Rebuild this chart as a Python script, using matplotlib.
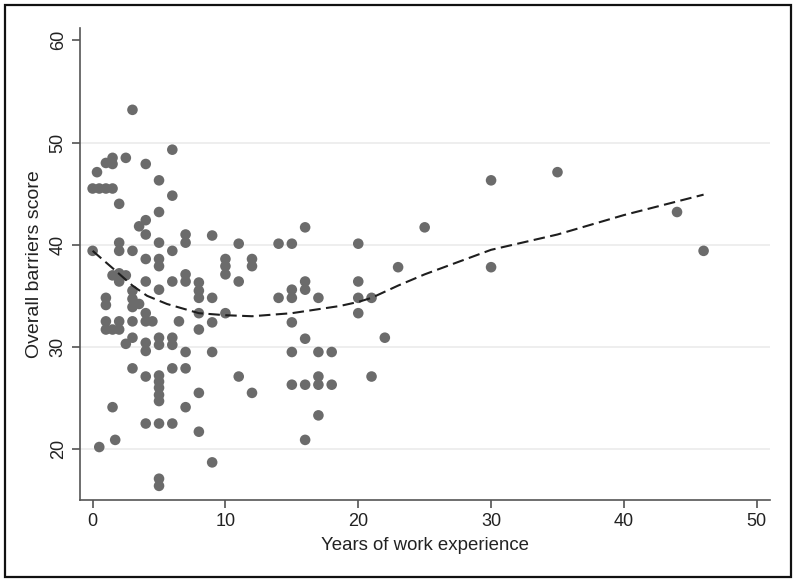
import matplotlib.pyplot as plt
from matplotlib.patches import Rectangle

# Pontos (anos de experiência, escore de barreiras)
anos = [0, 0,
        0.33,
        0.5, 0.5,
        1, 1, 1, 1, 1, 1,
        1.5, 1.5, 1.5, 1.5, 1.5, 1.5,
        1.7,
        2, 2, 2, 2, 2, 2, 2,
        2.5, 2.5, 2.5,
        3, 3, 3, 3, 3, 3, 3, 3,
        3.5, 3.5,
        4, 4, 4, 4, 4, 4, 4, 4, 4, 4, 4,
        4.5,
        5, 5, 5, 5, 5, 5, 5, 5, 5, 5, 5, 5, 5, 5, 5, 5,
        6, 6, 6, 6, 6, 6, 6, 6,
        6.5,
        7, 7, 7, 7, 7, 7, 7,
        8, 8, 8, 8, 8, 8, 8,
        9, 9, 9, 9, 9,
        10, 10, 10, 10,
        11, 11, 11,
        12, 12, 12,
        14, 14,
        15, 15, 15, 15, 15, 15,
        16, 16, 16, 16, 16, 16,
        17, 17, 17, 17, 17,
        18, 18,
        20, 20, 20, 20,
        21, 21,
        22, 23, 25,
        30, 30,
        35, 44, 46]
escore = [45.5, 39.4,
          47.1,
          45.5, 20.2,
          48.0, 45.5, 34.8, 34.1, 32.5, 31.7,
          48.5, 47.9, 45.5, 37.0, 31.7, 24.1,
          20.9,
          44.0, 40.2, 39.4, 37.2, 36.4, 32.5, 31.7,
          48.5, 37.0, 30.3,
          53.2, 39.4, 35.5, 34.7, 33.9, 32.5, 30.9, 27.9,
          41.8, 34.2,
          47.9, 42.4, 41.0, 38.6, 36.4, 33.3, 32.5, 30.4, 29.6, 27.1, 22.5,
          32.5,
          46.3, 43.2, 40.2, 38.6, 37.9, 35.6, 30.9, 30.2, 27.2, 26.6, 26.0, 25.3, 24.7, 22.5, 17.1, 16.4,
          49.3, 44.8, 39.4, 36.4, 30.9, 30.2, 27.9, 22.5,
          32.5,
          41.0, 40.2, 37.1, 36.4, 29.5, 27.9, 24.1,
          36.3, 35.5, 34.8, 33.3, 31.7, 25.5, 21.7,
          40.9, 34.8, 32.4, 29.5, 18.7,
          38.6, 37.9, 37.1, 33.3,
          40.1, 36.4, 27.1,
          38.6, 37.9, 25.5,
          40.1, 34.8,
          40.1, 35.6, 34.8, 32.4, 29.5, 26.3,
          41.7, 36.4, 35.6, 30.8, 26.3, 20.9,
          34.8, 29.5, 27.1, 26.3, 23.3,
          29.5, 26.3,
          40.1, 36.4, 34.8, 33.3,
          34.8, 27.1,
          30.9, 37.8, 41.7,
          46.3, 37.8,
          47.1, 43.2, 39.4]

# Curva suavizada (lowess)
lowess_x = [0, 1.6, 3, 4.1, 5.6, 8, 10, 12, 15, 18.6, 20, 21, 23, 25, 30, 35, 40, 46]
lowess_y = [39.4, 37.6, 36.0, 35.0, 34.2, 33.3, 33.1, 33.0, 33.3, 34.0, 34.4, 34.8,
            36.0, 37.1, 39.5, 41.0, 42.9, 44.9]

x_ticks = [0, 10, 20, 30, 40, 50]
y_ticks = [20, 30, 40, 50, 60]

plt.rcParams['font.family'] = ['Liberation Sans', 'DejaVu Sans']

fig = plt.figure(figsize=(8, 5.85), dpi=100)
ax = fig.add_axes([0.1, 0.145, 0.8625, 0.807])

# Linhas de grade horizontais
for v in y_ticks[:-1]:
    ax.axhline(v, color='#ebebeb', linewidth=1.2, zorder=0)

ax.scatter(anos, escore, s=58, color='#6b6b6b', edgecolors='none', zorder=2)
ax.plot(lowess_x, lowess_y, color='#1e1e1e', linewidth=1.5,
        linestyle=(0, (5.5, 2.6)), zorder=3)

ax.set_xlim(-0.95, 51.0)
ax.set_ylim(15.0, 61.2)
ax.set_xticks(x_ticks)
ax.set_yticks(y_ticks)
ax.tick_params(axis='both', labelsize=13, colors='#444444', labelcolor='#222222',
               length=6, width=1.1, direction='out')
for lab in ax.get_yticklabels():
    lab.set_rotation(90)
    lab.set_va('center')

for s in ['top', 'right']:
    ax.spines[s].set_visible(False)
for s in ['left', 'bottom']:
    ax.spines[s].set_color('#555555')
    ax.spines[s].set_linewidth(1.2)

ax.set_xlabel('Years of work experience', fontsize=13.4, color='#222222', labelpad=5)
ax.set_ylabel('Overall barriers score', fontsize=14, color='#222222', labelpad=5)

# Moldura preta em volta da figura
fig.patches.append(Rectangle((5 / 800, 8 / 585), 786 / 800, 572 / 585,
                             transform=fig.transFigure, fill=False,
                             edgecolor='#111111', linewidth=1.6))

plt.savefig('out.png', dpi=100)
